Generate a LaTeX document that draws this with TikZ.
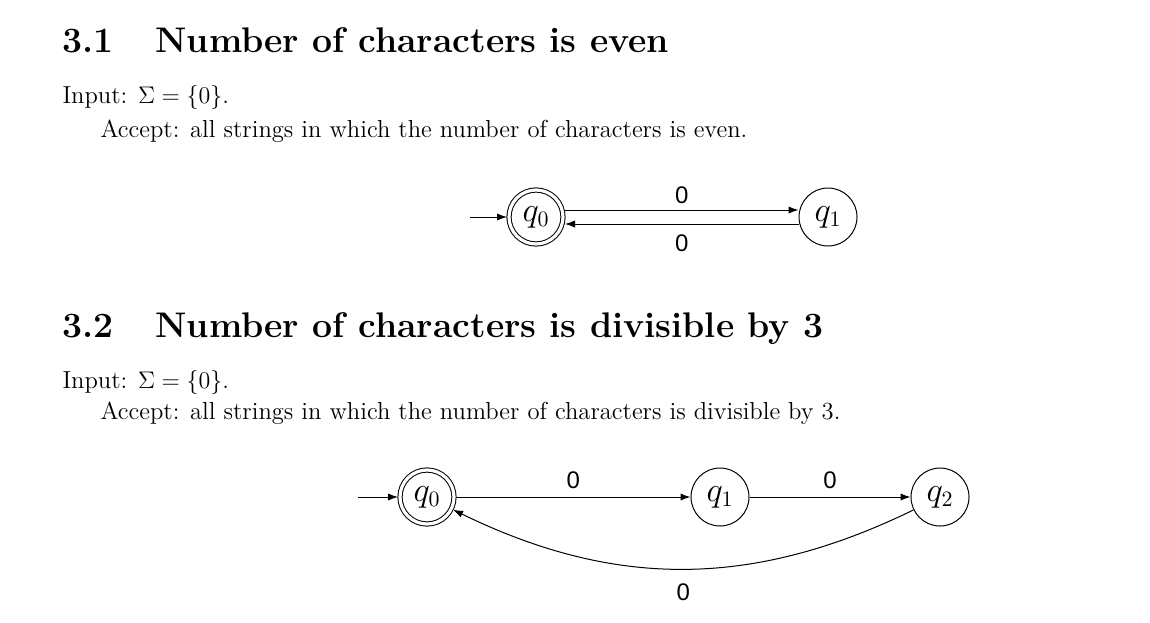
\documentclass[tikz,border=0pt]{standalone}
\usepackage{amsmath}
\usepackage{fontspec}
\usepackage{tikz}
\usepackage{xcolor}
\usetikzlibrary{arrows.meta}
\newfontfamily\lblfont{Liberation Sans}

\begin{document}
\begin{tikzpicture}[x=0.5pt,y=-0.5pt,>={Latex[length=5pt,width=3.6pt]},line width=0.5pt]%
  \tikzstyle{headn}=[anchor=base west,inner sep=0,font=\fontsize{17.8}{21}\selectfont\bfseries]
  \tikzstyle{txtn}=[anchor=base west,inner sep=0,font=\fontsize{12.3}{14.5}\selectfont]
  \tikzstyle{cirn}=[circle,draw,minimum size=29pt,inner sep=0,font=\fontsize{16}{19}\selectfont]
  \tikzstyle{accn}=[cirn,double,double distance=1.6pt,minimum size=27pt,outer sep=1pt]
  \tikzstyle{lbln}=[inner sep=0,font=\lblfont\fontsize{12}{14}\selectfont]
  \useasboundingbox (0,0) rectangle (1150,622);
  % 3.1
  \node(h1)[headn] at (62,52) {3.1};
  \node(n1)[headn] at (155,52) {Number of characters is even};
  \node(i1)[txtn] at (62,103) {Input: $\Sigma=\{0\}$.};
  \node(a1)[txtn] at (100,137) {Accept: all strings in which the number of characters is even.};
  \node(p0)[accn] at (536,217) {$q_0$};
  \node(p1)[cirn] at (828,217) {$q_1$};
  \coordinate(s1) at (470,217);
  \draw[->] (s1) -- (p0);
  \draw[->] ([yshift=3.5pt]p0.east) -- node[lbln,above=3pt]{0} ([yshift=3.5pt]p1.west);
  \draw[->] ([yshift=-3.5pt]p1.west) -- node[lbln,below=5pt]{0} ([yshift=-3.5pt]p0.east);
  % 3.2
  \node(h2)[headn] at (62,337) {3.2};
  \node(n2)[headn] at (155,337) {Number of characters is divisible by 3};
  \node(i2)[txtn] at (62,388) {Input: $\Sigma=\{0\}$.};
  \node(a2)[txtn] at (100,419) {Accept: all strings in which the number of characters is divisible by 3.};
  \node(r0)[accn] at (427,497) {$q_0$};
  \node(r1)[cirn] at (720,497) {$q_1$};
  \node(r2)[cirn] at (940,497) {$q_2$};
  \coordinate(s2) at (358,497);
  \draw[->] (s2) -- (r0);
  \draw[->] (r0) -- node[lbln,above=4pt]{0} (r1);
  \draw[->] (r1) -- node[lbln,above=4pt]{0} (r2);
  \draw[->] (r2) to[bend left=26] node[lbln,below=7pt]{0} (r0);
\end{tikzpicture}
\end{document}
